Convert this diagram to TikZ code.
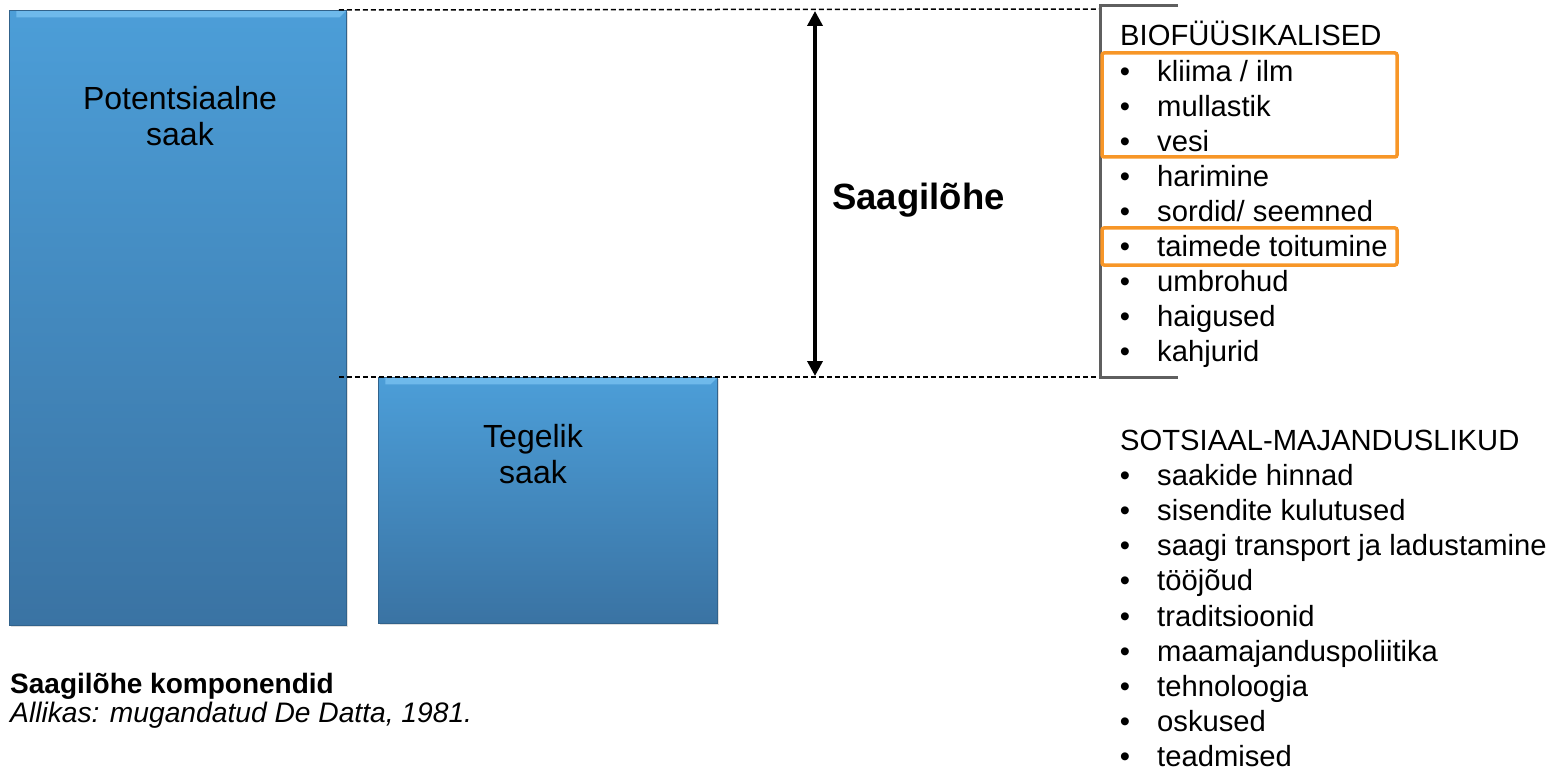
\documentclass[tikz,border=0pt]{standalone}
\usepackage{fontspec}
\setmainfont{Liberation Sans}
\usetikzlibrary{arrows.meta,positioning,shadows}
\definecolor{barblue}{RGB}{76,158,216}
\definecolor{bardark}{RGB}{58,115,163}
\definecolor{barlight}{RGB}{110,185,235}
\definecolor{hilite}{RGB}{247,150,40}
\definecolor{brgray}{RGB}{95,95,95}
\tikzset{
  bar/.style={rectangle, draw=bardark!85!black, line width=0.8, top color=barblue,
    bottom color=bardark, anchor=north west, inner sep=0,
    drop shadow={opacity=0.25, shadow xshift=1.5pt, shadow yshift=-1.5pt},
    path picture={
      \fill[barlight] (path picture bounding box.north west) -- (path picture bounding box.north east)
        -- ++(-7pt,-7pt) -| ([xshift=7pt]path picture bounding box.north west) -- cycle;}},
  bartext/.style={font=\fontsize{32}{36}\selectfont, anchor=base, inner sep=0},
  listtext/.style={font=\fontsize{29.2}{34}\selectfont, anchor=base west, inner sep=0},
  guide/.style={line width=1.5, dash pattern=on 5 off 3},
  hibox/.style={draw=hilite, line width=3.5, rounded corners=2},
}
\begin{document}
\begin{tikzpicture}[x=1pt,y=-1pt]
  \useasboundingbox (0,0) rectangle (1550,770);
  % the two yields
  \node[bar, minimum width=337, minimum height=615] (pot) at (9,10) {};
  \node[bar, minimum width=339, minimum height=246] (act) at (378,377) {};
  \node[bartext] (potlbl) at (180,110) {Potentsiaalne};
  \node[bartext] (potlbl2) at (180,146) {saak};
  \node[bartext] (actlbl) at (533,447) {Tegelik};
  \node[bartext] (actlbl2) at (533,483) {saak};

  % gap between them
  \coordinate (topR) at (1100,9);
  \coordinate (botR) at (1100,377);
  \draw[guide] (pot.north east) ++(-8,0) -- (topR);
  \draw[guide] (pot.east |- act.north) ++(-8,0) -- (botR);
  \coordinate (gaptop) at (815,11);
  \coordinate (gapbot) at (815,376);
  \draw[{Triangle[length=15,width=15]}-{Triangle[length=15,width=15]}, line width=3.5] (gaptop) -- (gapbot);
  \node[font=\bfseries\fontsize{36.5}{40}\selectfont, anchor=base west, inner sep=0] (gap) at (832,210) {Saagilõhe};

  % factors
  \draw[brgray, line width=3] (1178,6) -- (1100,6) -- (1100,377) -- (1178,377);
  \node[listtext] (bio) at (1120,46) {BIOFÜÜSIKALISED};
  \foreach \txt [count=\i] in {kliima / ilm, mullastik, vesi, harimine, sordid/ seemned,
      taimede toitumine, umbrohud, haigused, kahjurid} {
    \node[listtext, anchor=base] (biob\i) at (1125,{46+35.1*\i}) {•};
    \node[listtext] (bio\i) at (1157,{46+35.1*\i}) {\txt};
  }
  \draw[hibox] (1102,53) rectangle (1397,157);
  \draw[hibox] (1102,228) rectangle (1397,265);

  \node[listtext] (soc) at (1120,450) {SOTSIAAL-MAJANDUSLIKUD};
  \foreach \txt [count=\i] in {saakide hinnad, sisendite kulutused, saagi transport ja ladustamine,
      tööjõud, traditsioonid, maamajanduspoliitika, tehnoloogia, oskused, teadmised} {
    \node[listtext, anchor=base] (socb\i) at (1125,{450+35.2*\i}) {•};
    \node[listtext] (soc\i) at (1157,{450+35.2*\i}) {\txt};
  }

  % caption
  \node[listtext, font=\bfseries\fontsize{28}{34}\selectfont] (capt) at (10,693) {Saagilõhe komponendid};
  \node[listtext, font=\itshape\fontsize{28.2}{34}\selectfont] (src) at (10,722) {Allikas: mugandatud De Datta, 1981.};
\end{tikzpicture}
\end{document}
